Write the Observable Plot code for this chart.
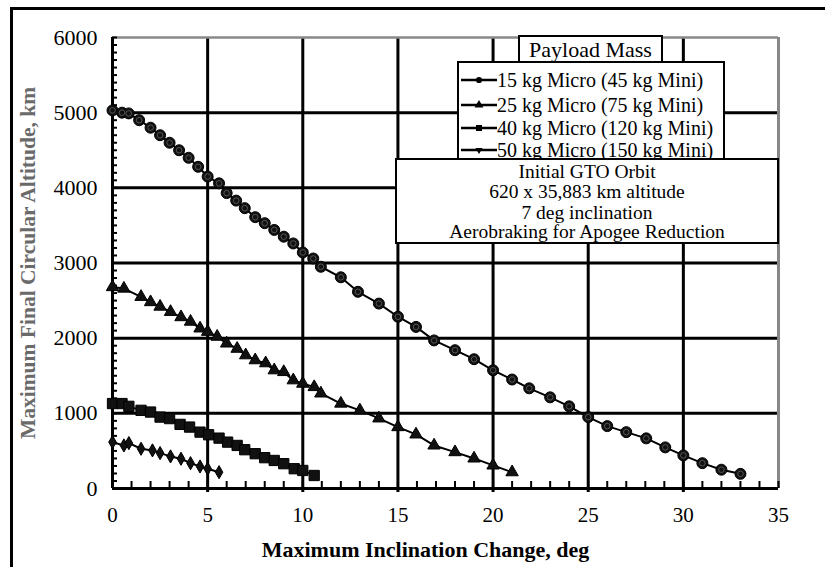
<!DOCTYPE html>
<html>
<head>
<meta charset="utf-8">
<script src="https://cdn.jsdelivr.net/npm/d3@7"></script>
<script src="https://cdn.jsdelivr.net/npm/@observablehq/plot@0.6"></script>
<style>
  html, body { margin: 0; padding: 0; background: white; overflow: hidden; width: 825px; height: 567px; }
  #wrap { position: relative; width: 825px; height: 567px; font-family: "Liberation Serif", "Times New Roman", serif; }
  #outer { position: absolute; left: 10px; top: 7px; width: 900px; height: 700px; border: 3px solid black; box-sizing: border-box; pointer-events: none; }
  .box { position: absolute; background: white; border: 2px solid black; box-sizing: border-box; }
  .t { position: absolute; font-size: 20px; line-height: 20px; white-space: nowrap; color: black; }
</style>
</head>
<body>
<div id="wrap"><div id="outer"></div></div>
<script>
// ---- data ----
const seriesNames = ["15 kg Micro (45 kg Mini)", "25 kg Micro (75 kg Mini)", "40 kg Micro (120 kg Mini)", "50 kg Micro (150 kg Mini)"];
const legendTitle = "Payload Mass";
const noteLines = ["Initial GTO Orbit", "620 x 35,883 km altitude", "7 deg inclination", "Aerobraking for Apogee Reduction"];
const xLabel = "Maximum Inclination Change, deg";
const yLabel = "Maximum Final Circular Altitude, km";

const deg15 = [0,0.5,0.85,1.4,2.0,2.5,3.0,3.5,4.0,4.5,5.0,5.6,6.0,6.5,6.95,7.5,8.0,8.5,9.0,9.5,10.0,10.55,10.95,12,12.9,14,15,15.95,16.9,18,19,20,21,21.9,23,24,25,26,27,28.05,29.05,30,31,32,33];
const alt15 = [5030,5000,4990,4900,4800,4700,4600,4500,4400,4280,4150,4060,3930,3830,3730,3610,3530,3440,3350,3260,3140,3060,2950,2810,2617,2460,2285,2150,1970,1840,1720,1573,1450,1333,1213,1093,950,830,750,667,547,440,337,250,195];

const deg25 = [0,0.6,1.5,2.0,2.5,3.05,3.6,4.1,4.6,5.0,5.5,6.0,6.55,7.0,7.5,8.05,8.5,9.0,9.5,10,10.6,10.95,12,13,14,15,15.95,16.9,18,19,20,21];
const alt25 = [2680,2660,2550,2480,2420,2350,2280,2220,2130,2085,2020,1930,1860,1773,1707,1667,1573,1550,1440,1395,1350,1265,1130,1040,933,817,720,573,484,400,307,217];

const deg40 = [0,0.5,0.86,1.5,2.0,2.5,3.0,3.55,4.05,4.6,5.05,5.6,6.05,6.55,6.95,7.5,8.0,8.5,9.0,9.55,10,10.6];
const alt40 = [1130,1130,1093,1040,1017,950,930,853,817,750,715,670,617,573,516,463,410,373,330,263,240,173];

const deg50 = [0,0.6,0.86,1.5,2.1,2.5,3.05,3.6,4.1,4.6,5.0,5.6];
const alt50 = [617,573,604,529,507,471,427,396,337,293,263,217];

const xTicks = [0,5,10,15,20,25,30,35];
const yTicks = [0,1000,2000,3000,4000,5000,6000];
const xGrid = [5,10,15,20,25,30];
const yGrid = [1000,2000,3000,4000,5000];
const xMinor = d3.range(0, 36, 1);
const yMinor = d3.range(0, 6001, 100);

// ---- build tables ----
const zip = (xs, ys) => xs.map((x, i) => ({x, y: ys[i]}));
const s15 = zip(deg15, alt15), s25 = zip(deg25, alt25), s40 = zip(deg40, alt40), s50 = zip(deg50, alt50);

const W = 825, H = 567;
const mL = 112, mR = 47, mT = 37, mB = 79;
const frameW = W - mL - mR, frameH = H - mT - mB;

const chart = Plot.plot({
  width: W, height: H,
  marginLeft: mL, marginRight: mR, marginTop: mT, marginBottom: mB,
  x: {domain: [0, 35]},
  y: {domain: [0, 6000]},
  style: {fontFamily: "Liberation Serif, Times New Roman, serif", fontSize: "21px", background: "white", color: "black"},
  marks: [
    Plot.ruleX(xGrid, {x: d => d, stroke: "black", strokeWidth: 3, insetBottom: -4}),
    Plot.ruleY(yGrid, {y: d => d, stroke: "black", strokeWidth: 3}),
    Plot.ruleY([6000], {stroke: "#888", strokeWidth: 2.5}),
    Plot.ruleX([35], {stroke: "#888", strokeWidth: 3}),
    Plot.tickX(xMinor, {x: d => d, stroke: "black", strokeWidth: 2, insetTop: frameH - 7}),
    Plot.tickY(yMinor, {y: d => d, stroke: "black", strokeWidth: 2, insetRight: frameW - 5}),
    Plot.ruleY([0], {stroke: "black", strokeWidth: 3}),
    Plot.ruleX([0], {stroke: "black", strokeWidth: 3}),
    Plot.axisX({ticks: xTicks, tickSize: 0, tickPadding: 19, tickFormat: d => String(d), label: null, fontSize: 21}),
    Plot.axisY({ticks: yTicks, tickSize: 0, tickPadding: 15, tickFormat: d => String(d), label: null, fontSize: 22}),
    Plot.text([xLabel], {text: d => d, frameAnchor: "bottom", dx: -20, dy: 61, fontWeight: "bold", fontSize: 22, textAnchor: "middle", lineAnchor: "middle", fill: "black"}),
    Plot.text([yLabel], {text: d => d, frameAnchor: "left", rotate: -90, dx: -84, dy: 0, fontWeight: "bold", fontSize: 21.5, textAnchor: "middle", lineAnchor: "middle", fill: "#6a6a6a"}),
    // series lines
    Plot.line(s15, {x: "x", y: "y", stroke: "black", strokeWidth: 2}),
    Plot.line(s25, {x: "x", y: "y", stroke: "black", strokeWidth: 2}),
    Plot.line(s40, {x: "x", y: "y", stroke: "black", strokeWidth: 2}),
    Plot.line(s50, {x: "x", y: "y", stroke: "black", strokeWidth: 2}),
    // markers
    Plot.dot(s15, {x: "x", y: "y", r: 5.5, fill: "#111", stroke: "black", strokeWidth: 1}),
    Plot.dot(s15, {x: "x", y: "y", r: 2.8, fill: "none", stroke: "#555", strokeWidth: 1}),
    Plot.dot(s25, {x: "x", y: "y", symbol: "triangle", r: 4.6, fill: "#111", stroke: "black", strokeWidth: 1}),
    Plot.dot(s40, {x: "x", y: "y", symbol: "square", r: 5.8, fill: "#111", stroke: "black", strokeWidth: 1}),
    Plot.dot(s50, {x: "x", y: "y", symbol: "diamond", r: 4, fill: "#111", stroke: "black", strokeWidth: 1})
  ]
});

const wrap = document.getElementById("wrap");
chart.style.position = "absolute";
chart.style.left = "0px";
chart.style.top = "0px";
wrap.insertBefore(chart, wrap.firstChild);

// ---- legend & note overlay ----
function box(l, t, w, h) {
  const d = document.createElement("div");
  d.className = "box";
  Object.assign(d.style, {left: l + "px", top: t + "px", width: w + "px", height: h + "px"});
  wrap.appendChild(d);
  return d;
}
function text(parent, str, l, t, center, size) {
  const d = document.createElement("div");
  d.className = "t";
  d.textContent = str;
  d.style.top = t + "px";
  if (size) { d.style.fontSize = size + "px"; d.style.lineHeight = size + "px"; }
  if (center) { d.style.left = "0px"; d.style.width = "100%"; d.style.textAlign = "center"; }
  else d.style.left = l + "px";
  parent.appendChild(d);
  return d;
}

const titleBox = box(518, 35, 145, 28);
text(titleBox, legendTitle, 0, 2, true, 22);

const legBox = box(457, 61, 268, 100);
const symbols = [d3.symbolCircle, d3.symbolTriangle, d3.symbolSquare, d3.symbolTriangle];
const symSizes = [30, 34, 36, 22];
const symRot = [0, 0, 0, 180];
const rowCenters = [80, 105, 128, 150];
seriesNames.forEach((name, i) => {
  const top = rowCenters[i] - 63 - 10;
  const svg = d3.select(legBox).append("svg")
    .attr("width", 38).attr("height", 20)
    .style("position", "absolute").style("left", "2px").style("top", top + "px");
  svg.append("line").attr("x1", 0).attr("x2", 36).attr("y1", 10).attr("y2", 10)
    .attr("stroke", "black").attr("stroke-width", 2.5);
  svg.append("path").attr("d", d3.symbol(symbols[i], symSizes[i])())
    .attr("transform", `translate(18,10) rotate(${symRot[i]})`).attr("fill", "black");
  text(legBox, name, 38, top, false);
});

const noteBox = box(395, 158, 384, 86);
const noteCenters = [171, 191, 212, 231];
noteLines.forEach((s, i) => text(noteBox, s, 0, noteCenters[i] - 160 - 9.5, true, 19.5));
</script>
</body>
</html>
